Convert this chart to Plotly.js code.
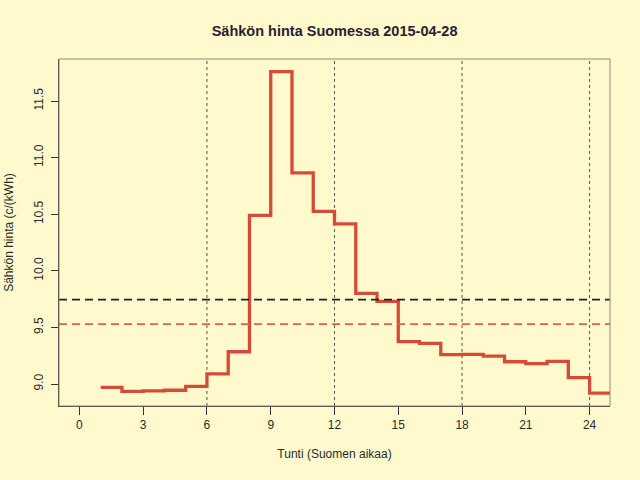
<!DOCTYPE html>
<html>
<head>
<meta charset="utf-8">
<script src="https://cdn.plot.ly/plotly-3.0.1.min.js"></script>
<style>
  body { margin: 0; background: #FFFACD; }
  #graph { width: 640px; height: 480px; }
</style>
</head>
<body>
<div id="graph"></div>
<script>
// hour of day (step starts) and price per hour, c/kWh
const hours = [1, 2, 3, 4, 5, 6, 7, 8, 9, 10, 11, 12, 13, 14, 15, 16, 17, 18, 19, 20, 21, 22, 23, 24];
const prices = [8.97, 8.935, 8.94, 8.945, 8.98, 9.09, 9.285, 10.49, 11.76, 10.865, 10.525, 10.415,
                9.80, 9.73, 9.375, 9.36, 9.26, 9.262, 9.247, 9.197, 9.18, 9.20, 9.056, 8.92];
const refPrice = 9.745;   // black dashed
const meanPrice = 9.53;   // red dashed
const markHours = [6, 12, 18, 24];
const xTicks = [0, 3, 6, 9, 12, 15, 18, 21, 24];
const yTicks = [9.0, 9.5, 10.0, 10.5, 11.0, 11.5];
const yTickText = ['9.0', '9.5', '10.0', '10.5', '11.0', '11.5'];

let TESTER = document.getElementById('graph');

// last step runs to the end of hour 24
let xs = hours.concat([hours[hours.length - 1] + 1]);
let ys = prices.concat([prices[prices.length - 1]]);

var trace1 = {
    type: 'scatter',
    mode: 'lines',
    x: xs,
    y: ys,
    line: { shape: 'hv', color: '#D64B35', width: 3.3 },
    hoverinfo: 'skip'
};

let shapes = [];

markHours.forEach(h => {
    shapes.push({
        type: 'line', xref: 'x', yref: 'paper', x0: h, x1: h, y0: 0, y1: 1,
        line: { color: '#555', width: 1, dash: 'dot' }, layer: 'below'
    });
});

shapes.push({
    type: 'line', xref: 'paper', yref: 'y', x0: 0, x1: 1, y0: refPrice, y1: refPrice,
    line: { color: '#222', width: 1.8, dash: '8px,5px' }
});
shapes.push({
    type: 'line', xref: 'paper', yref: 'y', x0: 0, x1: 1, y0: meanPrice, y1: meanPrice,
    line: { color: '#E0604A', width: 1.8, dash: '8px,5px' }
});
shapes.push({
    type: 'rect', xref: 'paper', yref: 'paper', x0: 0, x1: 1, y0: 0, y1: 1,
    line: { color: '#8a8a80', width: 1 }
});

var layout = {
    width: 640,
    height: 480,
    margin: { l: 59, r: 30, t: 59, b: 74 },
    paper_bgcolor: '#FFFACD',
    plot_bgcolor: '#FFFACD',
    showlegend: false,
    font: { family: 'Liberation Sans, Arial, sans-serif', color: '#2a2a2a', size: 12 },
    title: {
        text: '<b>Sähkön hinta Suomessa 2015-04-28</b>',
        font: { size: 14.5, color: '#2a2030' },
        x: 0.5228, xanchor: 'center', y: 0.935, yanchor: 'middle'
    },
    xaxis: {
        range: [-0.96, 24.96],
        tickvals: xTicks,
        ticks: 'outside', ticklen: 8, tickcolor: '#333',
        showgrid: false, zeroline: false,
        showline: true, linecolor: '#333', linewidth: 1,
        tickfont: { size: 12 },
        title: { text: 'Tunti (Suomen aikaa)', font: { size: 12 }, standoff: 18 }
    },
    yaxis: {
        range: [8.806, 11.871],
        tickvals: yTicks,
        ticktext: yTickText,
        tickangle: -90,
        ticks: 'outside', ticklen: 7, tickcolor: '#333',
        ticklabelstandoff: 3,
        showgrid: false, zeroline: false,
        showline: true, linecolor: '#333', linewidth: 1,
        tickfont: { size: 12 },
        title: { text: 'Sähkön hinta (c/(kWh)', font: { size: 12 }, standoff: 16 }
    },
    shapes: shapes
};

var config = { displayModeBar: false, staticPlot: true };
Plotly.newPlot(TESTER, [trace1], layout, config);
</script>
</body>
</html>
